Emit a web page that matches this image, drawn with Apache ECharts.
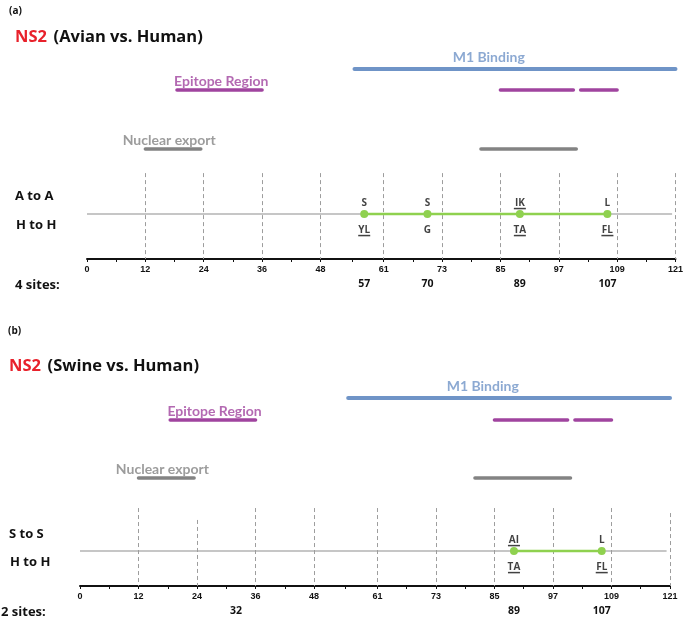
<!DOCTYPE html>
<html>
<head>
<meta charset="utf-8">
<script src="https://cdn.jsdelivr.net/npm/echarts@6/dist/echarts.min.js"></script>
<style>html,body{margin:0;padding:0;background:#fff}#c{width:686px;height:619px}</style>
</head>
<body>
<div id="c"></div>
<script>
// ---------- data ----------
const tickLabels = [0, 12, 24, 36, 48, 61, 73, 85, 97, 109, 121];
const minorTicks = [6, 18, 30, 42, 54.5, 67, 79, 91, 103, 115];
const dashedAt = [12, 24, 36, 48, 61, 73, 85, 97, 109, 121];

const m1Range = [55, 121];
const epitopeRanges = [[18.5, 36], [85, 100], [101.5, 109]];
const nuclearRanges = [[12, 23.4], [81, 100.6]];
const baselineRange = [0, 120.3];

// panel (a) Avian vs Human
const sitesA = [57, 70, 89, 107];
const avianAA = ['S', 'S', 'IK', 'L'];
const avianAAUnder = [false, false, true, false];
const avianHH = ['YL', 'G', 'TA', 'FL'];
const avianHHUnder = [true, false, true, true];
const siteLabelsA = [57, 70, 89, 107];

// panel (b) Swine vs Human
const sitesB = [89, 107];
const swineSS = ['AI', 'L'];
const swineSSUnder = [true, false];
const swineHH = ['TA', 'FL'];
const swineHHUnder = [true, true];
const siteLabelsB = [32, 89, 107];

// ---------- styles / layout ----------
const C = {
  m1: '#6f94c7', purple: '#a0449f', gray: '#838383', green: '#8fd14f',
  base: '#b3b3b3', dash: '#9d9d9d', red: '#e8212b'
};
const FONT = 'Lato, "Open Sans", sans-serif';
const BFONT = '"Open Sans", Lato, sans-serif';
const NARROW = '"Liberation Sans Narrow", "Liberation Sans", Arial, sans-serif';

const panels = [
  { grid: { left: 87, right: 9, top: 50, height: 209 },
    lv: { m1: 9.09, epi: 8.09, nuc: 5.26, row: 2.15, dashTop: 4.11 },
    dashTops: null,
    sites: sitesA, top: avianAA, topU: avianAAUnder, bot: avianHH, botU: avianHHUnder,
    siteLabels: siteLabelsA },
  { grid: { left: 80, right: 16, top: 377, height: 209 },
    lv: { m1: 9.0, epi: 7.94, nuc: 5.17, row: 1.67, dashTop: 3.73 },
    dashTops: { 24: 3.16, 121: 3.49 },
    sites: sitesB, top: swineSS, topU: swineSSUnder, bot: swineHH, botU: swineHHUnder,
    siteLabels: siteLabelsB }
];

const richMut = {
  t: { fontFamily: BFONT, fontWeight: 'bold', fontSize: 10, color: '#111', lineHeight: 9, align: 'center' },
  u: { width: 12, height: 1.5, backgroundColor: '#111', fontSize: 1, lineHeight: 2, align: 'center' },
  n: { width: 12, height: 1.5, backgroundColor: 'transparent', fontSize: 1, lineHeight: 2, align: 'center' }
};
function mutText(s, u) { return '{t|' + s + '}\n{' + (u ? 'u' : 'n') + '| }'; }

const grid = [], xAxis = [], yAxis = [], series = [];
panels.forEach((p, gi) => {
  grid.push(p.grid);
  xAxis.push({
    type: 'value', gridIndex: gi, min: 0, max: 121, position: 'bottom',
    axisLine: { show: true, lineStyle: { color: '#111', width: 2 } },
    axisTick: { show: true, length: 3, customValues: tickLabels.concat(minorTicks), lineStyle: { color: '#111', width: 1 } },
    axisLabel: { customValues: tickLabels, margin: 6, fontFamily: NARROW, fontWeight: 'bold', fontSize: 9, color: '#111' },
    splitLine: { show: false }
  });
  xAxis.push({
    type: 'value', gridIndex: gi, min: 0, max: 121, position: 'bottom', offset: 16,
    axisLine: { show: false }, axisTick: { show: false }, splitLine: { show: false },
    axisLabel: { customValues: p.siteLabels, margin: 4, fontFamily: BFONT, fontWeight: 'bold', fontSize: 10.5, color: '#111' }
  });
  yAxis.push({ type: 'value', gridIndex: gi, min: 0, max: 10, show: false });
  const xi = gi * 2;
  const L = p.lv;
  const seg = (r, lvl, color, w) => ({
    type: 'line', xAxisIndex: xi, yAxisIndex: gi, data: [[r[0], lvl], [r[1], lvl]],
    symbol: 'none', lineStyle: { color, width: w, cap: 'round' }, silent: true, z: 3
  });
  const txt = (x, lvl, text, color, dist) => ({
    type: 'scatter', xAxisIndex: xi, yAxisIndex: gi, data: [[x, lvl]], symbolSize: 1,
    itemStyle: { color: 'transparent' }, silent: true,
    label: { show: true, position: 'top', distance: dist, formatter: text,
      fontFamily: FONT, fontWeight: 'bold', fontSize: 14, color }
  });
  series.push(seg(m1Range, L.m1, C.m1, 4));
  series.push(txt(82.6, L.m1, 'M1 Binding', C.m1, 4));
  epitopeRanges.forEach(r => series.push(seg(r, L.epi, C.purple, 3.5)));
  series.push(txt(27.6, L.epi, 'Epitope Region', C.purple, 1));
  nuclearRanges.forEach(r => series.push(seg(r, L.nuc, C.gray, 3.5)));
  series.push(txt(16.9, L.nuc, 'Nuclear export', C.gray, 1));
  // baseline with dashed verticals
  series.push({
    type: 'line', xAxisIndex: xi, yAxisIndex: gi, symbol: 'none', silent: true, z: 2,
    data: [[baselineRange[0], L.row], [baselineRange[1], L.row]],
    lineStyle: { color: C.base, width: 1.5 },
    markLine: {
      symbol: 'none', silent: true, label: { show: false },
      lineStyle: { type: [4, 3], color: C.dash, width: 1 },
      data: dashedAt.map(v => [
        { coord: [v, (p.dashTops && p.dashTops[v] !== undefined) ? p.dashTops[v] : L.dashTop] },
        { coord: [v, 0] }
      ])
    }
  });
  // mutation line
  series.push({
    type: 'line', xAxisIndex: xi, yAxisIndex: gi, silent: true, z: 5,
    data: p.sites.map(s => [s, L.row]),
    symbol: 'circle', symbolSize: 8, showAllSymbol: true,
    itemStyle: { color: C.green }, lineStyle: { color: C.green, width: 2.5 }
  });
  // labels above
  series.push({
    type: 'scatter', xAxisIndex: xi, yAxisIndex: gi, silent: true, symbolSize: 1,
    itemStyle: { color: 'transparent' },
    data: p.sites.map((s, i) => ({ value: [s, L.row], name: mutText(p.top[i], p.topU[i]) })),
    label: { show: true, position: 'top', distance: 4, formatter: d => d.name, rich: richMut }
  });
  // labels below
  series.push({
    type: 'scatter', xAxisIndex: xi, yAxisIndex: gi, silent: true, symbolSize: 1,
    itemStyle: { color: 'transparent' },
    data: p.sites.map((s, i) => ({ value: [s, L.row], name: mutText(p.bot[i], p.botU[i]) })),
    label: { show: true, position: 'bottom', distance: 11, formatter: d => d.name, rich: richMut }
  });
});

function gtext(x, y, text, size, opts) {
  return {
    type: 'text', x, y, silent: true,
    style: Object.assign({ text, font: 'bold ' + size + 'px ' + BFONT, fill: '#111', verticalAlign: 'middle', align: 'left' }, opts || {})
  };
}
function titleText(x, y, rest) {
  return {
    type: 'text', x, y, silent: true,
    style: {
      text: '{r|NS2}  {k|' + rest + '}', verticalAlign: 'middle', align: 'left',
      rich: {
        r: { fontFamily: BFONT, fontWeight: 'bold', fontSize: 16.5, fill: C.red, color: C.red },
        k: { fontFamily: BFONT, fontWeight: 'bold', fontSize: 16.5, fill: '#111', color: '#111' }
      }
    }
  };
}

const graphic = [
  gtext(9, 11, '(a)', 10),
  titleText(15, 37, '(Avian vs. Human)'),
  gtext(15, 196, 'A to A', 13),
  gtext(16, 225, 'H to H', 13),
  gtext(15, 285, '4 sites:', 13),
  gtext(8, 331, '(b)', 10),
  titleText(9, 366, '(Swine vs. Human)'),
  gtext(9, 534, 'S to S', 13),
  gtext(10, 562, 'H to H', 13),
  gtext(1, 612, '2 sites:', 13)
];

const chart = echarts.init(document.getElementById('c'), null, { renderer: 'canvas' });
chart.setOption({ animation: false, grid, xAxis, yAxis, series, graphic });
</script>
</body>
</html>
